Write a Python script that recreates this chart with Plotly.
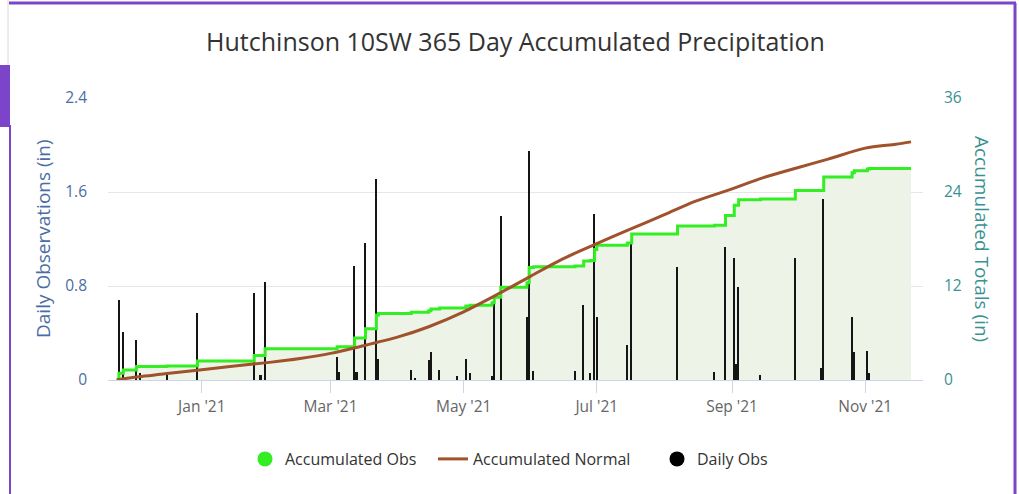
import plotly.graph_objects as go

# ---------------- data ----------------
daily_dates = [
    "2020-11-24", "2020-11-26", "2020-12-02", "2020-12-04", "2020-12-16", "2020-12-30",
    "2021-01-25", "2021-01-28", "2021-01-30",
    "2021-03-04", "2021-03-05", "2021-03-12", "2021-03-13", "2021-03-17", "2021-03-22", "2021-03-23",
    "2021-04-07", "2021-04-09", "2021-04-15", "2021-04-16", "2021-04-20", "2021-04-28",
    "2021-05-02", "2021-05-04", "2021-05-14", "2021-05-15", "2021-05-18", "2021-05-30", "2021-05-31",
    "2021-06-02", "2021-06-21", "2021-06-25", "2021-06-28", "2021-06-30",
    "2021-07-01", "2021-07-15", "2021-07-17",
    "2021-08-07", "2021-08-24", "2021-08-29",
    "2021-09-02", "2021-09-03", "2021-09-04", "2021-09-14", "2021-09-30",
    "2021-10-12", "2021-10-13", "2021-10-26", "2021-10-27",
    "2021-11-02", "2021-11-03",
]
daily_obs = [
    0.68, 0.41, 0.34, 0.06, 0.07, 0.57,
    0.74, 0.04, 0.83,
    0.20, 0.07, 0.97, 0.07, 1.17, 1.71, 0.18,
    0.085, 0.015, 0.17, 0.24, 0.085, 0.03,
    0.18, 0.06, 0.03, 0.68, 1.40, 0.54, 1.95,
    0.08, 0.08, 0.64, 0.06, 1.41,
    0.54, 0.30, 1.17,
    0.96, 0.07, 1.13,
    1.04, 0.14, 0.79, 0.04, 1.04,
    0.10, 1.54, 0.54, 0.24,
    0.25, 0.06,
]

accum_dates = [
    "2020-11-23", "2020-11-24", "2020-11-26", "2020-12-02", "2020-12-16", "2020-12-30",
    "2021-01-25", "2021-01-30", "2021-03-04", "2021-03-12", "2021-03-17", "2021-03-22",
    "2021-03-23", "2021-04-07", "2021-04-15", "2021-04-16", "2021-04-20", "2021-05-02",
    "2021-05-04", "2021-05-14", "2021-05-15", "2021-05-18", "2021-05-30", "2021-05-31",
    "2021-06-02", "2021-06-21", "2021-06-25", "2021-06-28", "2021-06-30", "2021-07-01",
    "2021-07-15", "2021-07-17", "2021-08-07", "2021-08-24", "2021-08-29", "2021-09-02",
    "2021-09-04", "2021-09-14", "2021-09-30", "2021-10-13", "2021-10-26", "2021-10-27",
    "2021-11-02", "2021-11-03", "2021-11-22",
]
accum_obs = [
    0.10, 0.85, 1.29, 1.71, 1.80, 2.44,
    3.13, 3.98, 4.25, 5.35, 6.55, 8.30,
    8.48, 8.65, 8.85, 9.05, 9.20, 9.45,
    9.55, 9.85, 10.55, 11.85, 12.40, 14.35,
    14.45, 14.55, 15.20, 15.25, 16.65, 17.20,
    17.50, 18.65, 19.65, 19.75, 21.00, 22.30,
    23.00, 23.10, 24.20, 25.90, 26.45, 26.70,
    26.95, 27.00, 27.00,
]

normal_dates = [
    "2020-11-23", "2020-12-01", "2020-12-15", "2021-01-01", "2021-01-15", "2021-02-01",
    "2021-02-15", "2021-03-01", "2021-03-15", "2021-04-01", "2021-04-15", "2021-05-01",
    "2021-05-15", "2021-06-01", "2021-06-15", "2021-07-01", "2021-07-15", "2021-08-01",
    "2021-08-15", "2021-09-01", "2021-09-15", "2021-10-01", "2021-10-15", "2021-11-01",
    "2021-11-15", "2021-11-22",
]
accum_normal = [
    0.0, 0.35, 0.80, 1.30, 1.75, 2.25,
    2.75, 3.40, 4.30, 5.50, 6.80, 8.70,
    10.70, 13.30, 15.40, 17.40, 19.10, 21.10,
    22.80, 24.40, 25.80, 27.10, 28.20, 29.60,
    30.10, 30.40,
]

tick_dates = ["2021-01-01", "2021-03-01", "2021-05-01", "2021-07-01", "2021-09-01", "2021-11-01"]
tick_labels = ["Jan '21", "Mar '21", "May '21", "Jul '21", "Sep '21", "Nov '21"]
left_ticks = [0, 0.8, 1.6, 2.4]
left_labels = ["0", "0.8", "1.6", "2.4"]
right_ticks = [0, 12, 24, 36]
right_labels = ["0", "12", "24", "36"]

# ---------------- styling ----------------
GREEN = "#33ee22"
BROWN = "#a0522d"
FILL = "#edf4e7"
PURPLE = "#7c44c8"
LEFT_C = "#4a6da3"
RIGHT_C = "#3a9191"
FONT = "Open Sans, Liberation Sans, sans-serif"

W, H = 1019, 494
L, R, T, B = 108, 923, 98, 380


def xp(px):
    return (px - L) / (R - L)


def yp(py):
    return (B - py) / (B - T)


fig = go.Figure()

# filled area under accumulated obs (bottom layer)
fig.add_trace(go.Scatter(
    x=accum_dates, y=accum_obs, mode="lines", line=dict(width=0, shape="hv"),
    fill="tozeroy", fillcolor=FILL, yaxis="y", showlegend=False, hoverinfo="skip",
))

# daily bars
fig.add_trace(go.Bar(
    x=daily_dates, y=daily_obs, yaxis="y2", marker=dict(color="#151515", line=dict(width=0)),
    width=0.7 * 86400000, showlegend=False, name="Daily Obs",
))

# lines on top
fig.add_trace(go.Scatter(
    x=accum_dates, y=accum_obs, mode="lines", yaxis="y3",
    line=dict(color=GREEN, width=3, shape="hv"), showlegend=False, name="Accumulated Obs",
))
fig.add_trace(go.Scatter(
    x=normal_dates, y=accum_normal, mode="lines", yaxis="y3",
    line=dict(color=BROWN, width=3, shape="spline", smoothing=0.8), showlegend=False,
    name="Accumulated Normal",
))

# legend entries (one legend each, placed individually)
fig.add_trace(go.Scatter(x=[None], y=[None], mode="markers", name="Accumulated Obs",
                         marker=dict(symbol="circle", size=15, color=GREEN), yaxis="y3",
                         legend="legend"))
fig.add_trace(go.Scatter(x=[None], y=[None], mode="lines", name="Accumulated Normal",
                         line=dict(color=BROWN, width=3), yaxis="y3", legend="legend2"))
fig.add_trace(go.Scatter(x=[None], y=[None], mode="markers", name="Daily Obs",
                         marker=dict(symbol="circle", size=15, color="#000000"), yaxis="y3",
                         legend="legend3"))

shapes = [
    dict(type="line", xref="paper", yref="paper", x0=xp(9), x1=xp(1016), y0=yp(3), y1=yp(3),
         line=dict(color=PURPLE, width=3)),
    dict(type="line", xref="paper", yref="paper", x0=xp(1015), x1=xp(1015), y0=yp(3), y1=yp(495),
         line=dict(color=PURPLE, width=3)),
    dict(type="line", xref="paper", yref="paper", x0=xp(10), x1=xp(10), y0=yp(125), y1=yp(495),
         line=dict(color=PURPLE, width=2)),
    dict(type="rect", xref="paper", yref="paper", x0=xp(0), x1=xp(10), y0=yp(65), y1=yp(127),
         fillcolor=PURPLE, line=dict(width=0)),
    dict(type="line", xref="paper", yref="paper", x0=xp(8), x1=xp(8), y0=yp(0), y1=yp(65),
         line=dict(color="#d8d8d8", width=1)),
]

annotations = [
    dict(text="Daily Observations (in)", xref="paper", yref="paper", x=xp(43), y=0.5,
         textangle=-90, showarrow=False, font=dict(family=FONT, size=19, color=LEFT_C),
         xanchor="center", yanchor="middle"),
    dict(text="Accumulated Totals (in)", xref="paper", yref="paper", x=xp(982), y=0.5,
         textangle=90, showarrow=False, font=dict(family=FONT, size=19, color=RIGHT_C),
         xanchor="center", yanchor="middle"),
]

legend_common = dict(orientation="h", xanchor="left", y=yp(459), yanchor="middle",
                     font=dict(family=FONT, size=16, color="#333333"), itemwidth=30,
                     bgcolor="rgba(0,0,0,0)", borderwidth=0)

fig.update_layout(
    width=W, height=H,
    margin=dict(l=L, r=W - R, t=T, b=H - B, pad=0),
    paper_bgcolor="white", plot_bgcolor="white",
    title=dict(text="Hutchinson 10SW 365 Day Accumulated Precipitation",
               x=0.5, xref="paper", y=1 - 42 / H, yref="container", yanchor="middle",
               font=dict(family=FONT, size=25, color="#333333")),
    bargap=0,
    xaxis=dict(
        type="date", range=["2020-11-19", "2021-11-27 12:00"],
        tickvals=tick_dates, ticktext=tick_labels,
        ticks="outside", ticklen=12, tickcolor="#ccd6eb", tickwidth=1,
        showline=True, linecolor="#ccd6eb", linewidth=1,
        showgrid=False, zeroline=False,
        tickfont=dict(family=FONT, size=15.5, color="#666666"),
    ),
    yaxis=dict(
        side="right", range=[0, 36], tickvals=right_ticks, ticktext=right_labels,
        showgrid=True, gridcolor="#e6e6e6", zeroline=False, showline=False,
        ticks="", ticklabelstandoff=20,
        tickfont=dict(family=FONT, size=15.5, color=RIGHT_C),
    ),
    yaxis2=dict(
        side="left", overlaying="y", range=[0, 2.4], tickvals=left_ticks, ticktext=left_labels,
        showgrid=False, zeroline=False, showline=False, ticks="", ticklabelstandoff=20,
        tickfont=dict(family=FONT, size=15.5, color=LEFT_C),
    ),
    yaxis3=dict(overlaying="y", range=[0, 36], visible=False),
    legend=dict(x=xp(245), **legend_common),
    legend2=dict(x=xp(433), **legend_common),
    legend3=dict(x=xp(657), **legend_common),
    shapes=shapes,
    annotations=annotations,
)

fig.write_html("out.html", config={"displayModeBar": False},
               post_script="document.body.style.margin='0';")
